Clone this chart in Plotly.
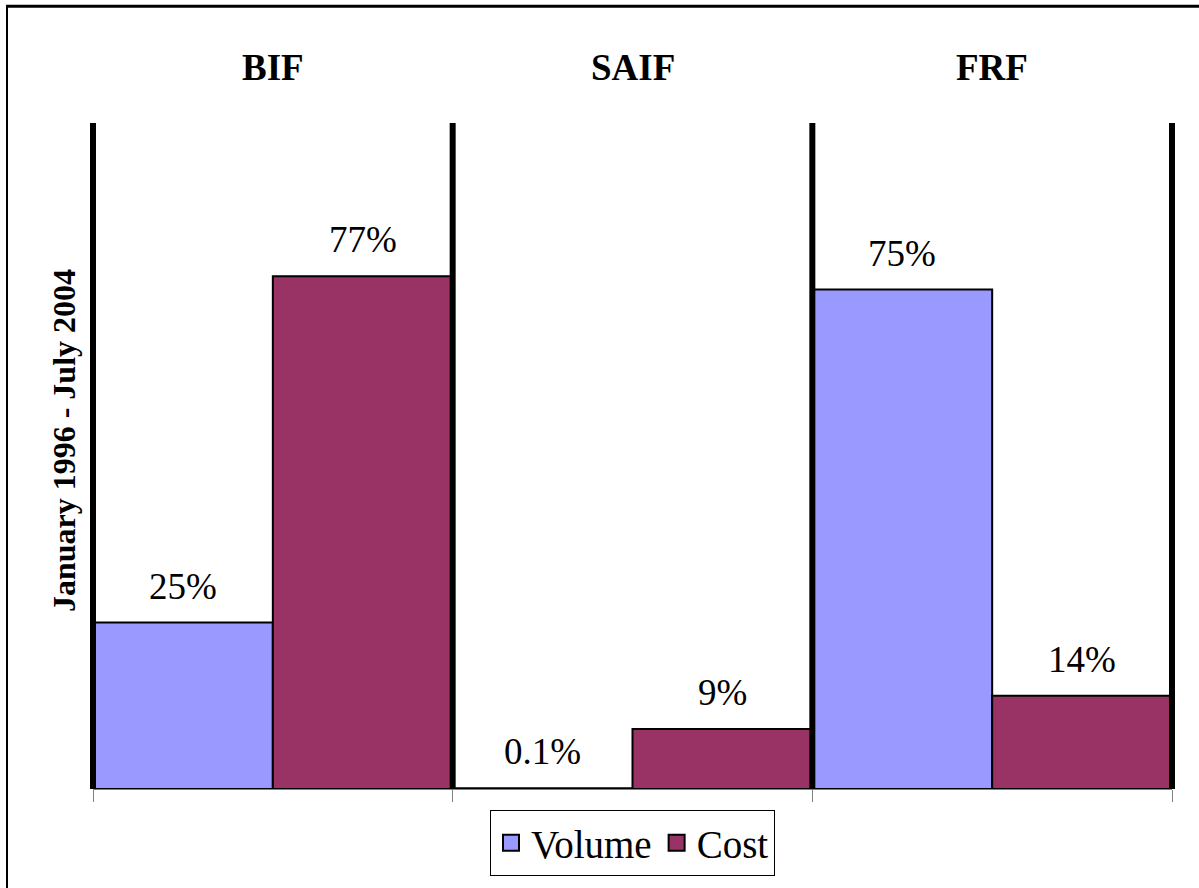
import plotly.graph_objects as go

categories = ["BIF", "SAIF", "FRF"]
volume = [25, 0.1, 75]
cost = [77, 9, 14]
series_names = ["Volume", "Cost"]
colors = ["#9999FF", "#993366"]
y_title = "January 1996 - July 2004"

W, H = 1199, 888
ML, MR, MT, MB = 93, 27, 123, 95
PW, PH = W - ML - MR, H - MT - MB

def px_x(px):
    return (px - ML) / PW

def px_y(py):
    return (H - MB - py) / PH

FONT = "Liberation Serif"
n = len(categories)
xs = list(range(n))

fig = go.Figure()
for vals, name, col, off in [(volume, series_names[0], colors[0], -0.5),
                             (cost, series_names[1], colors[1], 0.0)]:
    fig.add_trace(go.Bar(
        x=xs, y=vals, width=0.5, offset=off, name=name,
        marker=dict(color=col, line=dict(color="black", width=2)),
        showlegend=False, hoverinfo="skip"))
    # legend proxy
    fig.add_trace(go.Scatter(
        x=[None], y=[None], mode="markers", name=name,
        marker=dict(symbol="square", size=16, color=col,
                    line=dict(color="black", width=2)),
        showlegend=True))

annotations = []
for vals, shift in [(volume, -0.25), (cost, 0.25)]:
    for i, v in enumerate(vals):
        annotations.append(dict(
            x=i + shift, y=v, xref="x", yref="y", text=f"{v:g}%",
            showarrow=False, yanchor="bottom", yshift=14,
            font=dict(family=FONT, size=37, color="black")))
for i, c in enumerate(categories):
    annotations.append(dict(
        x=i, y=px_y(67), xref="x", yref="paper", text=f"<b>{c}</b>",
        showarrow=False, yanchor="middle",
        font=dict(family=FONT, size=37, color="black")))
annotations.append(dict(
    x=px_x(64), y=px_y(443), xref="paper", yref="paper",
    text=f"<b>{y_title}</b>", textangle=-90, showarrow=False,
    xanchor="center", yanchor="middle",
    font=dict(family=FONT, size=32, color="black")))

shapes = []
for k in range(n + 1):
    shapes.append(dict(type="line", xref="paper", yref="paper",
                       x0=k / n, x1=k / n, y0=0, y1=1,
                       line=dict(color="black", width=6), layer="above"))
# outer frame
shapes.append(dict(type="line", xref="paper", yref="paper",
                   x0=px_x(6), x1=px_x(1250), y0=px_y(5.5), y1=px_y(5.5),
                   line=dict(color="black", width=3)))
shapes.append(dict(type="line", xref="paper", yref="paper",
                   x0=px_x(7), x1=px_x(7), y0=px_y(5), y1=px_y(950),
                   line=dict(color="black", width=2)))

fig.update_layout(
    width=W, height=H,
    margin=dict(l=ML, r=MR, t=MT, b=MB, pad=0),
    paper_bgcolor="white", plot_bgcolor="white",
    font=dict(family=FONT, color="black"),
    barmode="overlay",
    xaxis=dict(range=[-0.5, n - 0.5], showgrid=False, zeroline=False,
               showline=True, linecolor="#808080", linewidth=1,
               tickvals=[i - 0.5 for i in range(n + 1)], ticks="outside",
               ticklen=12, tickcolor="#808080", tickwidth=1,
               showticklabels=False),
    yaxis=dict(range=[0, 100], showgrid=False, zeroline=False,
               showline=False, showticklabels=False, ticks=""),
    legend=dict(orientation="h", x=0.5, xanchor="center",
                y=px_y(814), yanchor="top",
                bordercolor="black", borderwidth=1, bgcolor="white",
                font=dict(family=FONT, size=39, color="black"),
                itemsizing="trace", tracegroupgap=0),
    annotations=annotations, shapes=shapes,
    hovermode=False,
)

fig.write_html("out.html")
